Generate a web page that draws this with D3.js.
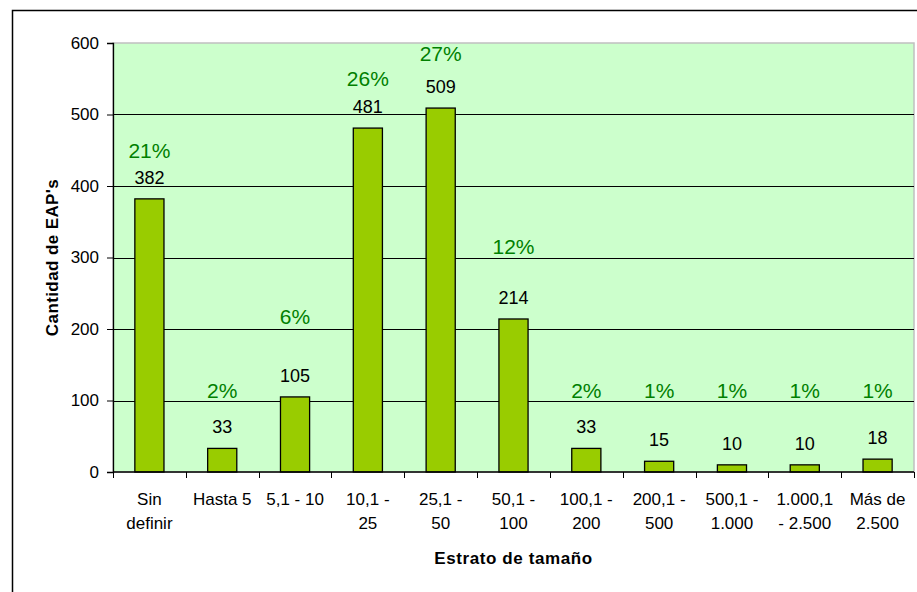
<!DOCTYPE html>
<html>
<head>
<meta charset="utf-8">
<script src="https://cdn.jsdelivr.net/npm/d3@7"></script>
<style>
  body { margin: 0; background: #fff; }
  svg { display: block; font-family: "Liberation Sans", Arial, sans-serif; }
</style>
</head>
<body>
<svg id="chart"></svg>
<script>
// data
const categories = [
  ['Sin', 'definir'], ['Hasta 5'], ['5,1 - 10'], ['10,1 -', '25'], ['25,1 -', '50'],
  ['50,1 -', '100'], ['100,1 -', '200'], ['200,1 -', '500'], ['500,1 -', '1.000'],
  ['1.000,1', '- 2.500'], ['Más de', '2.500']
]
const values = [382, 33, 105, 481, 509, 214, 33, 15, 10, 10, 18]
const percents = ['21%', '2%', '6%', '26%', '27%', '12%', '2%', '1%', '1%', '1%', '1%']
// where the percent labels sit, read in axis units
const percentAt = [450, 114, 218, 551, 586, 316, 114, 114, 114, 114, 114]
const yTicks = [0, 100, 200, 300, 400, 500, 600]

const width = 917
const height = 592
const margin = { top: 43, right: 3, bottom: 120, left: 113 }
const innerWidth = width - margin.left - margin.right
const innerHeight = height - margin.top - margin.bottom

const svg = d3.select('#chart')
  .attr('width', width)
  .attr('height', height)

// outer chart frame (only left and top edges are inside the picture)
svg.append('path')
  .attr('d', `M12.5,${height} V10.5 H${width}`)
  .attr('fill', 'none')
  .attr('stroke', '#000')
  .attr('stroke-width', 1.5)

const keys = categories.map((c, i) => i)

const x = d3.scaleBand()
  .domain(keys)
  .range([0, innerWidth])

const y = d3.scaleLinear()
  .domain([0, 600])
  .range([innerHeight, 0])

const g = svg.append('g')
  .attr('transform', `translate(${margin.left},${margin.top})`)

// plot area
g.append('rect')
  .attr('x', 0).attr('y', 0)
  .attr('width', innerWidth).attr('height', innerHeight)
  .attr('fill', '#ccffcc')
  .attr('stroke', '#c0c0c0')
  .attr('stroke-width', 1.5)

// gridlines
g.selectAll('.grid')
  .data(yTicks.filter(d => d > 0 && d < 600))
  .join('line')
  .attr('x1', 0).attr('x2', innerWidth)
  .attr('y1', d => Math.round(y(d)) + 0.5).attr('y2', d => Math.round(y(d)) + 0.5)
  .attr('stroke', '#000')

// bars
const barW = x.bandwidth() * 0.4
g.selectAll('.bar')
  .data(values)
  .join('rect')
  .attr('x', (d, i) => x(i) + (x.bandwidth() - barW) / 2)
  .attr('y', d => y(d))
  .attr('width', barW)
  .attr('height', d => innerHeight - y(d))
  .attr('fill', '#99cc00')
  .attr('stroke', '#000')
  .attr('stroke-width', 1.3)

// y axis
const yAxis = g.append('g')
  .call(d3.axisLeft(y).tickValues(yTicks).tickSize(6).tickPadding(8))
yAxis.select('.domain').attr('stroke', '#000').attr('stroke-width', 1.3)
yAxis.selectAll('.tick line').attr('stroke', '#000')
yAxis.selectAll('.tick text')
  .attr('font-size', 17).attr('fill', '#000')
  .attr('font-family', '"Liberation Sans", Arial, sans-serif')

// x axis line and ticks between categories
g.append('line')
  .attr('x1', 0).attr('x2', innerWidth)
  .attr('y1', innerHeight).attr('y2', innerHeight)
  .attr('stroke', '#000').attr('stroke-width', 1.3)
g.selectAll('.xtick')
  .data(d3.range(categories.length + 1))
  .join('line')
  .attr('x1', i => Math.round(i === categories.length ? innerWidth : x(i)) + 0.5)
  .attr('x2', i => Math.round(i === categories.length ? innerWidth : x(i)) + 0.5)
  .attr('y1', innerHeight).attr('y2', innerHeight + 6)
  .attr('stroke', '#000')

// category labels
g.selectAll('.xlabel')
  .data(categories)
  .join('text')
  .attr('x', (d, i) => x(i) + x.bandwidth() / 2)
  .attr('y', innerHeight + 33)
  .attr('text-anchor', 'middle')
  .attr('font-size', 17)
  .attr('fill', '#000')
  .each(function (d) {
    d3.select(this).selectAll('tspan')
      .data(d)
      .join('tspan')
      .attr('x', d3.select(this).attr('x'))
      .attr('dy', (t, j) => j === 0 ? 0 : 24)
      .text(t => t)
  })

// value labels
g.selectAll('.val')
  .data(values)
  .join('text')
  .attr('x', (d, i) => x(i) + x.bandwidth() / 2)
  .attr('y', d => y(d) - 15)
  .attr('text-anchor', 'middle')
  .attr('font-size', 18)
  .attr('fill', '#000')
  .text(d => d)

// percent labels
g.selectAll('.pct')
  .data(percents)
  .join('text')
  .attr('x', (d, i) => x(i) + x.bandwidth() / 2)
  .attr('y', (d, i) => y(percentAt[i]) + 7.5)
  .attr('text-anchor', 'middle')
  .attr('font-size', 21)
  .attr('fill', '#008000')
  .text(d => d)

// axis titles
svg.append('text')
  .attr('transform', `translate(${58},${margin.top + innerHeight / 2}) rotate(-90)`)
  .attr('text-anchor', 'middle')
  .attr('font-size', 17)
  .attr('font-weight', 'bold')
  .attr('letter-spacing', 0.4)
  .text("Cantidad de EAP's")

svg.append('text')
  .attr('x', margin.left + innerWidth / 2)
  .attr('y', 564)
  .attr('text-anchor', 'middle')
  .attr('font-size', 17)
  .attr('font-weight', 'bold')
  .attr('letter-spacing', 0.6)
  .text('Estrato de tamaño')
</script>
</body>
</html>
